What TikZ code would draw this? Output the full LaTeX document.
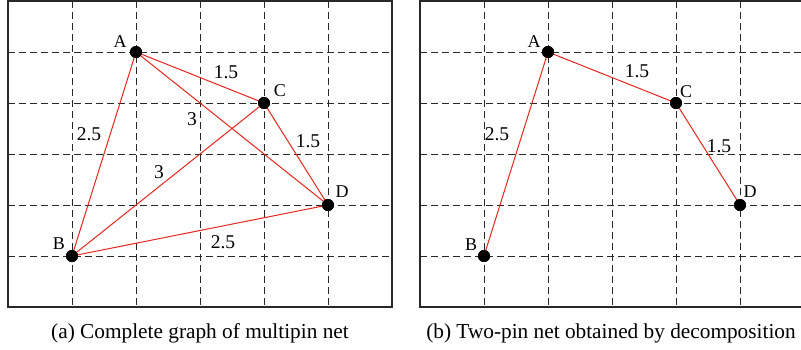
\documentclass[tikz,border=0pt]{standalone}
\usepackage{fontspec}
\setmainfont{Liberation Serif}
\definecolor{edgered}{RGB}{228,38,28}
\definecolor{gridgray}{RGB}{40,40,40}
\begin{document}
\begin{tikzpicture}[x=1pt,y=-1pt,
  frame/.style={draw=gridgray,line width=1.3pt},
  gridline/.style={draw=gridgray,line width=0.9pt,dash pattern=on 6.5pt off 4.5pt},
  pin/.style={circle,fill=black,inner sep=0pt,minimum size=12pt},
  redline/.style={draw=edgered,line width=1pt},
  lab/.style={font=\fontsize{18}{18}\selectfont,inner sep=0pt},
  numlab/.style={font=\fontsize{19.5}{20}\selectfont,inner sep=0pt},
  captext/.style={font=\fontsize{21.3}{22}\selectfont,inner sep=0pt}]
\useasboundingbox (0,0) rectangle (801,349);
% panels
\begin{scope}
\clip (0,0) rectangle (801,349);
\foreach \x in {72,136,200,264,328} \draw[gridline] (\x,1) -- (\x,307);
\foreach \y in {52,103,154,205,256} \draw[gridline] (8,\y) -- (392,\y);
\draw[frame] (8,1) rectangle (392,307);
\foreach \x in {484,548,612,676,740} \draw[gridline] (\x,1) -- (\x,307);
\foreach \y in {52,103,154,205,256} \draw[gridline] (420,\y) -- (804,\y);
\draw[frame] (420,1) rectangle (804,307);
\end{scope}
% left graph
\node[pin] (A) at (136,52) {};
\node[pin] (B) at (72,256) {};
\node[pin] (C) at (264,103) {};
\node[pin] (D) at (328,205) {};
\draw[redline] (A.center) -- (B.center);
\draw[redline] (A.center) -- (C.center);
\draw[redline] (A.center) -- (D.center);
\draw[redline] (B.center) -- (C.center);
\draw[redline] (B.center) -- (D.center);
\draw[redline] (C.center) -- (D.center);
\node[pin] at (A) {};\node[pin] at (B) {};\node[pin] at (C) {};\node[pin] at (D) {};
\node[lab] (la) at (120,42) {A};
\node[lab] (lb) at (59,244) {B};
\node[lab] (lc) at (280,91) {C};
\node[lab] (ld) at (342,192) {D};
\node[numlab] (e1) at (226,72) {1.5};
\node[numlab] (e2) at (89,134) {2.5};
\node[numlab] (e3) at (192,119) {3};
\node[numlab] (e4) at (159,172) {3};
\node[numlab] (e5) at (308,141) {1.5};
\node[numlab] (e6) at (223,242) {2.5};
% right graph
\node[pin] (A2) at (548,52) {};
\node[pin] (B2) at (484,256) {};
\node[pin] (C2) at (676,103) {};
\node[pin] (D2) at (740,205) {};
\draw[redline] (A2.center) -- (B2.center);
\draw[redline] (A2.center) -- (C2.center);
\draw[redline] (C2.center) -- (D2.center);
\node[pin] at (A2) {};\node[pin] at (B2) {};\node[pin] at (C2) {};\node[pin] at (D2) {};
\node[lab] (la2) at (534,42) {A};
\node[lab] (lb2) at (471,245) {B};
\node[lab] (lc2) at (686,92) {C};
\node[lab] (ld2) at (750,192) {D};
\node[numlab] (f1) at (637,71) {1.5};
\node[numlab] (f2) at (497,134) {2.5};
\node[numlab] (f3) at (719,146) {1.5};
% captions
\node[captext,anchor=base] (capa) at (200,338) {(a) Complete graph of multipin net};
\node[captext,anchor=base] (capb) at (611,338) {(b) Two-pin net obtained by decomposition};
\end{tikzpicture}
\end{document}
